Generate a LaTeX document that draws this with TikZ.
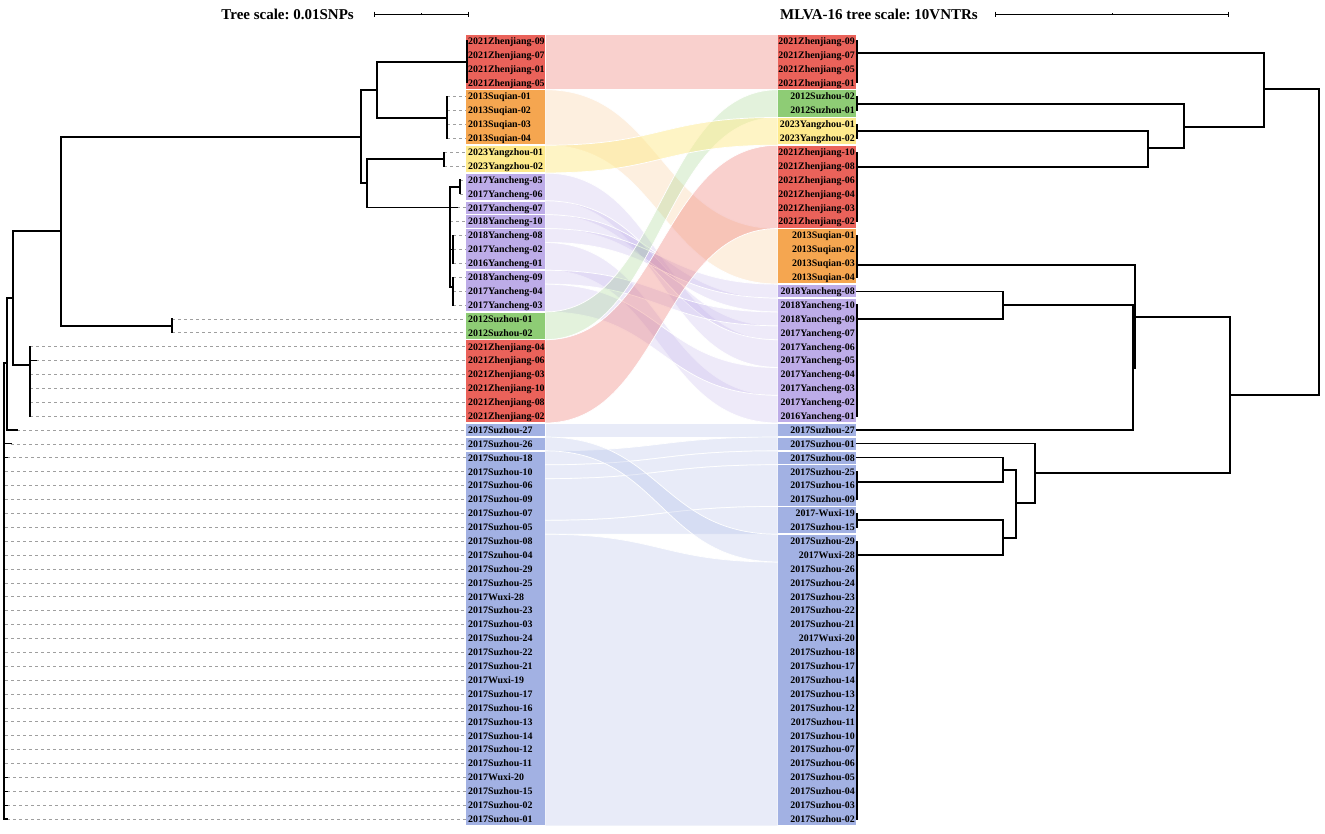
\documentclass[tikz,border=0pt]{standalone}
\usepackage{fontspec}
\setmainfont{Liberation Serif}
\frenchspacing
\definecolor{cred}{RGB}{234,98,90}
\definecolor{cora}{RGB}{245,166,80}
\definecolor{cyel}{RGB}{254,234,140}
\definecolor{cpur}{RGB}{189,172,232}
\definecolor{cgrn}{RGB}{142,204,117}
\definecolor{cblu}{RGB}{162,177,227}
\newcommand\yy[1]{(41+(#1-1)*13.893)}
\newcommand\lbox[3]{\fill[#1] (466,{\yy{#2}-6.2}) rectangle (545,{\yy{#3}+6.2});}
\newcommand\rbox[3]{\fill[#1] (778,{\yy{#2}-6.2}) rectangle (856,{\yy{#3}+6.2});}
\newcommand\band[6]{\filldraw[fill=#1, fill opacity=#6, draw=white, line width=0.7pt]
  (545,{\yy{#2}-6.9}) .. controls (661,{\yy{#2}-6.9}) and (661,{\yy{#4}-6.9}) .. (778,{\yy{#4}-6.9})
  -- (778,{\yy{#5}+6.9}) .. controls (661,{\yy{#5}+6.9}) and (661,{\yy{#3}+6.9}) .. (545,{\yy{#3}+6.9}) -- cycle;}
\begin{document}
\begin{tikzpicture}[x=1pt,y=-1pt,
  lbl/.style={font=\fontsize{9.9}{10}\selectfont\bfseries, inner sep=0pt, text height=6.7pt, text depth=0pt},
  br/.style={line width=1.15pt, black, line cap=rect},
  dsh/.style={gray!75, line width=0.6pt, dash pattern=on 3pt off 3pt},
  ttl/.style={font=\fontsize{15}{16}\selectfont\bfseries, inner sep=0pt}]
\useasboundingbox (0,0) rectangle (1325,833);
% ---------- bands ----------
\band{cred}{1}{4}{1}{4}{0.3}
\band{cora}{5}{8}{15}{18}{0.18}
\band{cpur}{11}{12}{23}{24}{0.25}
\band{cpur}{13}{13}{22}{22}{0.25}
\band{cpur}{14}{14}{20}{20}{0.25}
\band{cpur}{15}{15}{19}{19}{0.25}
\band{cpur}{16}{17}{27}{28}{0.25}
\band{cpur}{18}{18}{21}{21}{0.25}
\band{cpur}{19}{20}{25}{26}{0.25}
\band{cred}{23}{28}{9}{14}{0.3}
\band{cgrn}{21}{22}{5}{6}{0.25}
\band{cyel}{9}{10}{7}{8}{0.5}
\band{cblu}{29}{29}{29}{29}{0.25}
\band{cblu}{31}{31}{30}{30}{0.25}
\band{cblu}{32}{32}{31}{31}{0.25}
\band{cblu}{33}{35}{32}{34}{0.25}
\band{cblu}{36}{36}{35}{36}{0.25}
\band{cblu}{37}{57}{39}{57}{0.25}
\band{cblu}{30}{30}{37}{38}{0.25}
% ---------- label boxes ----------
\lbox{cred}{1}{4} \lbox{cora}{5}{8} \lbox{cyel}{9}{10}
\lbox{cpur}{11}{12} \lbox{cpur}{13}{13} \lbox{cpur}{14}{14} \lbox{cpur}{15}{17} \lbox{cpur}{18}{20}
\lbox{cgrn}{21}{22} \lbox{cred}{23}{28} \lbox{cblu}{29}{29} \lbox{cblu}{30}{30} \lbox{cblu}{31}{57}
\rbox{cred}{1}{4} \rbox{cgrn}{5}{6} \rbox{cyel}{7}{8} \rbox{cred}{9}{14} \rbox{cora}{15}{18}
\rbox{cpur}{19}{19} \rbox{cpur}{20}{28}
\rbox{cblu}{29}{29} \rbox{cblu}{30}{30} \rbox{cblu}{31}{31} \rbox{cblu}{32}{34} \rbox{cblu}{35}{36} \rbox{cblu}{37}{57}
% ---------- labels ----------
\foreach \t [count=\i] in {2021Zhenjiang-09,2021Zhenjiang-07,2021Zhenjiang-01,2021Zhenjiang-05,2013Suqian-01,2013Suqian-02,2013Suqian-03,2013Suqian-04,2023Yangzhou-01,2023Yangzhou-02,2017Yancheng-05,2017Yancheng-06,2017Yancheng-07,2018Yancheng-10,2018Yancheng-08,2017Yancheng-02,2016Yancheng-01,2018Yancheng-09,2017Yancheng-04,2017Yancheng-03,2012Suzhou-01,2012Suzhou-02,2021Zhenjiang-04,2021Zhenjiang-06,2021Zhenjiang-03,2021Zhenjiang-10,2021Zhenjiang-08,2021Zhenjiang-02,2017Suzhou-27,2017Suzhou-26,2017Suzhou-18,2017Suzhou-10,2017Suzhou-06,2017Suzhou-09,2017Suzhou-07,2017Suzhou-05,2017Suzhou-08,2017Szuhou-04,2017Suzhou-29,2017Suzhou-25,2017Wuxi-28,2017Suzhou-23,2017Suzhou-03,2017Suzhou-24,2017Suzhou-22,2017Suzhou-21,2017Wuxi-19,2017Suzhou-17,2017Suzhou-16,2017Suzhou-13,2017Suzhou-14,2017Suzhou-12,2017Suzhou-11,2017Wuxi-20,2017Suzhou-15,2017Suzhou-02,2017Suzhou-01}
  {\node[lbl, anchor=west] (L\i) at (468,{\yy{\i}}) {\t};}
\foreach \t [count=\i] in {2021Zhenjiang-09,2021Zhenjiang-07,2021Zhenjiang-05,2021Zhenjiang-01,2012Suzhou-02,2012Suzhou-01,2023Yangzhou-01,2023Yangzhou-02,2021Zhenjiang-10,2021Zhenjiang-08,2021Zhenjiang-06,2021Zhenjiang-04,2021Zhenjiang-03,2021Zhenjiang-02,2013Suqian-01,2013Suqian-02,2013Suqian-03,2013Suqian-04,2018Yancheng-08,2018Yancheng-10,2018Yancheng-09,2017Yancheng-07,2017Yancheng-06,2017Yancheng-05,2017Yancheng-04,2017Yancheng-03,2017Yancheng-02,2016Yancheng-01,2017Suzhou-27,2017Suzhou-01,2017Suzhou-08,2017Suzhou-25,2017Suzhou-16,2017Suzhou-09,2017-Wuxi-19,2017Suzhou-15,2017Suzhou-29,2017Wuxi-28,2017Suzhou-26,2017Suzhou-24,2017Suzhou-23,2017Suzhou-22,2017Suzhou-21,2017Wuxi-20,2017Suzhou-18,2017Suzhou-17,2017Suzhou-14,2017Suzhou-13,2017Suzhou-12,2017Suzhou-11,2017Suzhou-10,2017Suzhou-07,2017Suzhou-06,2017Suzhou-05,2017Suzhou-04,2017Suzhou-03,2017Suzhou-02}
  {\node[lbl, anchor=east] (R\i) at (855,{\yy{\i}}) {\t};}
% ---------- scale titles ----------
\node[ttl, anchor=base east] (tl) at (354,19) {Tree scale: 0.01SNPs};
\node[ttl, anchor=base east] (tr) at (978,19) {MLVA-16 tree scale: 10VNTRs};
\draw[line width=0.8pt] (374,14) -- (468,14) (374,11.5) -- (374,16.5) (468,11.5) -- (468,16.5) (421,13) -- (421,15);
\draw[line width=0.8pt] (995,14) -- (1228,14) (995,11.5) -- (995,16.5) (1228,11.5) -- (1228,16.5) (1112,13) -- (1112,15);
% ---------- left tree dashed ----------
\foreach \k/\xs in {5/447,6/447,7/447,8/447,9/444,10/444,11/460,12/460,13/457,14/450,15/453,16/453,17/453,18/453,19/453,20/453,21/172,22/172,23/30,24/36,25/30,26/30,27/30,28/30,29/17,30/11,31/7,54/7,55/7,56/7,57/7}
  {\draw[dsh] (\xs,{\yy{\k}}) -- (466,{\yy{\k}});}
\foreach \k in {32,...,53} {\draw[dsh] (5,{\yy{\k}}) -- (466,{\yy{\k}});}
% ---------- left tree ----------
\draw[br] (467,41) -- (467,82.7) (377,62) -- (467,62);
\draw[br] (447,{\yy{5}}) -- (447,{\yy{8}}) (377,118) -- (447,118);
\draw[br] (377,62) -- (377,118) (361,90) -- (377,90);
\draw[br] (444,{\yy{9}}) -- (444,{\yy{10}}) (367,159) -- (444,159);
\draw[br] (450,187) -- (450,287) (450,187) -- (460,187) (460,{\yy{11}}) -- (460,{\yy{12}});
\draw[br] (367,207.7) -- (457,207.7);
\draw[br] (450,249.4) -- (453,249.4) (453,{\yy{15}}) -- (453,{\yy{17}});
\draw[br] (450,287) -- (453,287) (453,{\yy{18}}) -- (453,{\yy{20}});
\draw[br] (367,159) -- (367,207.7) (361,183) -- (367,183);
\draw[br] (361,90) -- (361,183) (61,137) -- (361,137);
\draw[br] (172,{\yy{21}}) -- (172,{\yy{22}}) (61,326) -- (172,326);
\draw[br] (61,137) -- (61,326) (13,231) -- (61,231);
\draw[br] (30,{\yy{23}}) -- (30,{\yy{28}}) (13,365) -- (30,365) (30,{\yy{24}}) -- (36,{\yy{24}});
\draw[br] (13,231) -- (13,365) (7,298) -- (13,298);
\draw[br] (7,298) -- (7,{\yy{29}}) -- (17,{\yy{29}}) (4,363) -- (7,363);
\draw[br] (4,363) -- (4,{\yy{57}});
\draw[br] (4,{\yy{30}}) -- (11,{\yy{30}}) (4,{\yy{31}}) -- (7,{\yy{31}});
\foreach \k in {54,...,57} {\draw[br] (4,{\yy{\k}}) -- (7,{\yy{\k}});}
% ---------- right tree ----------
\draw[br] (857,41) -- (857,82.7) (857,53) -- (1264,53);
\draw[br] (857,{\yy{5}}) -- (857,{\yy{6}}) (857,104) -- (1184,104);
\draw[br] (857,{\yy{7}}) -- (857,{\yy{8}}) (857,131) -- (1148,131);
\draw[br] (857,{\yy{9}}) -- (857,{\yy{14}}) (857,167) -- (1148,167);
\draw[br] (1148,131) -- (1148,167) (1148,148) -- (1184,148);
\draw[br] (1184,104) -- (1184,148) (1184,127) -- (1264,127);
\draw[br] (1264,53) -- (1264,127) (1264,89) -- (1319,89);
\draw[br] (1319,89) -- (1319,395);
\draw[br] (857,{\yy{15}}) -- (857,{\yy{18}}) (857,265) -- (1135,265);
\draw[br] (857,{\yy{19}}) -- (1003,{\yy{19}});
\draw[br] (857,{\yy{20}}) -- (857,{\yy{28}}) (857,319) -- (1003,319);
\draw[br] (1003,{\yy{19}}) -- (1003,319) (1003,305) -- (1133,305);
\draw[br] (857,{\yy{29}}) -- (1133,{\yy{29}});
\draw[br] (1133,305) -- (1133,{\yy{29}}) (1133,368) -- (1135,368);
\draw[br] (1135,265) -- (1135,368) (1135,317) -- (1230,317);
\draw[br] (1230,317) -- (1230,473) (1230,395) -- (1319,395);
\draw[br] (857,{\yy{30}}) -- (1035,{\yy{30}});
\draw[br] (857,{\yy{31}}) -- (1003,{\yy{31}});
\draw[br] (857,{\yy{32}}) -- (857,{\yy{34}}) (857,482) -- (1003,482);
\draw[br] (1003,{\yy{31}}) -- (1003,482) (1003,470) -- (1016,470);
\draw[br] (857,{\yy{35}}) -- (857,{\yy{36}}) (857,520) -- (1003,520);
\draw[br] (857,{\yy{37}}) -- (857,{\yy{57}}) (857,555) -- (1003,555);
\draw[br] (1003,520) -- (1003,555) (1003,538) -- (1016,538);
\draw[br] (1016,470) -- (1016,538) (1016,503) -- (1035,503);
\draw[br] (1035,{\yy{30}}) -- (1035,503) (1035,473) -- (1230,473);
\end{tikzpicture}
\end{document}
